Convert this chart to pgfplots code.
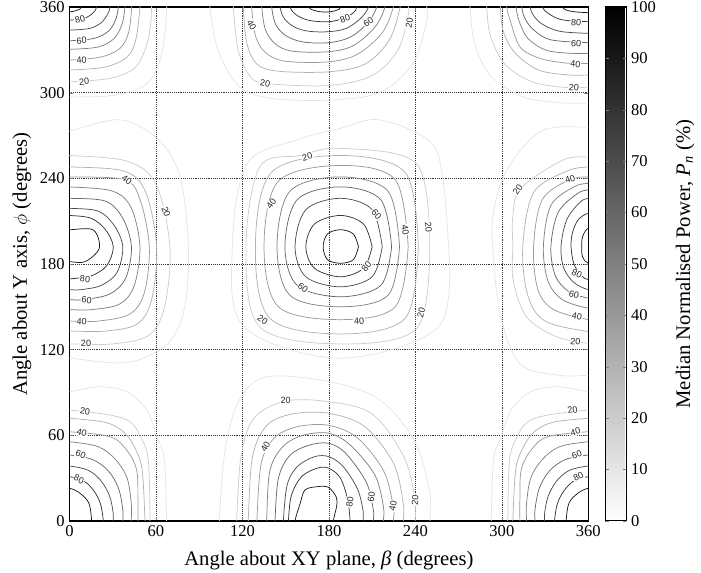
\documentclass[border=0pt]{standalone}
\usepackage{fontspec}
\setmainfont{Liberation Serif}
\newfontfamily\labfont{Liberation Sans}
\usepackage{pgfplots}
\pgfplotsset{compat=1.18}

\pgfplotsset{
  /pgf/number format/assume math mode=true,
  cl/.style={smooth, tension=0.55, line width=0.55pt, forget plot, mark=none},
  l1/.style={cl, draw=black!10}, l2/.style={cl, draw=black!20},
  l3/.style={cl, draw=black!30}, l4/.style={cl, draw=black!40},
  l5/.style={cl, draw=black!50}, l6/.style={cl, draw=black!60},
  l7/.style={cl, draw=black!70}, l8/.style={cl, draw=black!80},
  l9/.style={cl, draw=black!90},
}
\tikzset{lab/.style={font=\labfont\fontsize{6.8}{7}\selectfont, fill=white, inner sep=0.5pt, text=black!85}}

\begin{document}
\begin{tikzpicture}
\begin{axis}[
  width=389.2pt, height=385.5pt, scale only axis,
  xmin=0, xmax=360, ymin=0, ymax=360,
  xtick={0,60,...,360}, ytick={0,60,...,360},
  grid=major, grid style={densely dotted, black!80, line width=0.5pt},
  tick align=inside, major tick length=3pt, tick pos=both,
  axis line style={line width=0.9pt},
  tick label style={font=\fontsize{12.4}{14}\selectfont},
  label style={font=\fontsize{15.5}{18}\selectfont},
  xlabel={Angle about XY plane, \textit{β} (degrees)},
  ylabel={Angle about Y axis, $\phi$ (degrees)},
  xlabel style={at={(axis description cs:0.5,-0.076)}, anchor=center},
  ylabel style={at={(axis description cs:-0.0915,0.5)}, anchor=center},
  colormap={bw}{gray(0cm)=(1); gray(1cm)=(0)},
  point meta min=0, point meta max=100,
  colorbar,
  colorbar style={
    at={(parent axis.north east)}, anchor=north west, xshift=4.2pt,
    width=15.75pt,
    ytick={0,10,...,100}, tick align=inside, major tick length=2.5pt,
    ytick pos=both, yticklabel pos=right,
    axis line style={line width=0.8pt},
    yticklabel style={font=\fontsize{12.4}{14}\selectfont},
    ylabel={Median Normalised Power, \textit{P}\textsubscript{\textit{n}} (\%)},
    ylabel style={font=\fontsize{15.5}{18}\selectfont, at={(axis description cs:3.8,0.5)}, anchor=center},
  },
]
% ---------- central peak
\addplot[l1] coordinates {(263,192) (259,240) (250,266) (215,281) (188,275) (158,267) (123,250) (113,192) (121,136) (188,114) (256,136) (263,192)};
\addplot[l2] coordinates {(250,192) (241,250) (188,261) (160,256) (132,248) (122.5,192) (132,136) (188,124) (241,135) (250,192)};
\addplot[l3] coordinates {(242,192) (233,244) (188,256) (140,244) (129,192) (139,142) (188,131) (233,142) (242,192)};
\addplot[l4] coordinates {(235,192) (226,239) (188,249) (145,238) (135,192) (145,150) (188,141) (226,150) (235,192)};
\addplot[l5] coordinates {(229,192) (221,231) (188,241) (153,231) (144,192) (153,158) (188,150) (221,158) (229,192)};
\addplot[l6] coordinates {(223.5,192) (216,225) (188,234) (158,225) (149.5,192) (158,165) (188,157) (216,165) (223.5,192)};
\addplot[l7] coordinates {(217,192) (210,218) (188,226) (164,218) (156.5,192) (164,171) (188,164) (210,171) (217,192)};
\addplot[l8] coordinates {(210,192) (204,208) (188,214) (170,208) (164,192) (170,177) (188,171) (204,177) (210,192)};
\addplot[l9] coordinates {(200.5,192) (197,201) (188,204) (179,201) (176,192) (179,183) (188,180.5) (197,183) (200.5,192)};
% ---------- left middle peak
\addplot[l1] coordinates {(-10,272) (0,273) (35,281) (62,267) (77,240) (82.5,192) (80,150) (68,124) (40,111) (0,114) (-10,114)};
\addplot[l2] coordinates {(-10,256) (0,256) (40,252) (60,236) (69.7,192) (66,150) (55,130) (30,124) (0,124) (-10,124)};
\addplot[l3] coordinates {(-10,248) (0,248) (38,245) (53,230) (60.5,192) (57,155) (47,138) (25,133) (0,133) (-10,133)};
\addplot[l4] coordinates {(-10,241) (0,241) (38,239) (49,225) (55.4,192) (52,160) (42,145) (20,140) (0,140) (-10,140)};
\addplot[l5] coordinates {(-10,234) (0,234) (30,231) (43,219) (48.9,192) (45,165) (35,152) (15,148) (0,148) (-10,148)};
\addplot[l6] coordinates {(-10,226) (0,226) (25,224) (37,212) (43,192) (39,170) (28,159) (10,155) (0,155) (-10,155)};
\addplot[l7] coordinates {(-10,219) (0,219) (20,217) (31,207) (37,192) (33,174) (22,165) (8,162) (0,162) (-10,162)};
\addplot[l8] coordinates {(-10,214) (0,214) (15,212) (25,204) (30.4,192) (26,179) (16,172) (5,170) (0,169.5) (-10,169.5)};
\addplot[l9] coordinates {(-10,204) (0,204) (16.5,203.8) (20.7,191) (10.8,181.6) (0,181.6) (-10,181.6)};
% ---------- right middle peak
\addplot[l1] coordinates {(370,276) (360,276) (327,273) (303,245) (294,215) (293.7,192) (298.7,145) (312.6,110) (340,102) (360,102) (370,102)};
\addplot[l2] coordinates {(370,255) (360,255) (342.5,252.8) (313,233) (307.6,213) (307.6,192) (307.8,169) (317,143) (338,129) (360,124.4) (370,124.4)};
\addplot[l3] coordinates {(370,248) (360,248) (345,245) (322,230) (314.5,192) (318,158) (330,140) (360,132.6) (370,132.6)};
\addplot[l4] coordinates {(370,241) (360,241) (347,239) (328,225) (322,192) (325,162) (336,148) (360,141) (370,141)};
\addplot[l5] coordinates {(370,236.5) (360,236.5) (350,234) (334,221) (328.8,192) (332,168) (342,155) (360,149) (370,149)};
\addplot[l6] coordinates {(370,232) (360,232) (352,229) (339,216) (334,192) (337,172) (346,161) (360,156) (370,156)};
\addplot[l7] coordinates {(370,226) (360,226) (354,223) (345,211) (341,192) (343,177) (350,167) (360,162) (370,162)};
\addplot[l8] coordinates {(370,215.5) (360,215.5) (353,211) (349,202) (348,192) (350,180) (355,172) (360,169) (370,169)};
\addplot[l9] coordinates {(370,205) (360,205) (356,199) (355.4,192) (356,185) (360,180.4) (370,180.4)};
% ---------- bottom centre peak
\addplot[l1] coordinates {(104,-10) (104,0) (108,50) (118,85) (137,101) (180,97.6) (215,85) (240,55) (250,20) (250.2,0) (250.2,-10)};
\addplot[l2] coordinates {(116,-10) (116,0) (119,45) (128,72) (150,84) (180,83.5) (210,75) (232,45) (239.8,15) (239.8,0) (239.8,-10)};
\addplot[l3] coordinates {(124,-10) (124,0) (127,45) (137,67) (155,75) (180,75.4) (205,66) (225,40) (231.6,12) (231.6,0) (231.6,-10)};
\addplot[l4] coordinates {(130,-10) (130,0) (133,40) (142,58) (158,66) (180,67) (200,58) (218,35) (224.7,10) (224.7,0) (224.7,-10)};
\addplot[l5] coordinates {(136.8,-10) (136.8,0) (139,35) (148,52) (162,60) (180,61.4) (195,53) (212,32) (217.8,10) (217.8,0) (217.8,-10)};
\addplot[l6] coordinates {(142.6,-10) (142.6,0) (145,30) (153,46) (166,53) (180,54.4) (192,47) (206,27) (210.8,8) (210.8,0) (210.8,-10)};
\addplot[l7] coordinates {(148.4,-10) (148.4,0) (151,25) (158,38) (170,45) (180,45) (190,38) (200,22) (203.9,6) (203.9,0) (203.9,-10)};
\addplot[l8] coordinates {(151.9,-10) (151.9,0) (154,18) (161,31) (172,37) (180,36.9) (188,30) (193,15) (194.7,0) (194.7,-10)};
\addplot[l9] coordinates {(156.5,-10) (156.5,0) (160,12) (163.4,21.7) (172,24) (179.6,23.6) (185,17) (185.4,10.5) (183.1,0) (183.1,-10)};
% ---------- top centre peak
\addplot[l1] coordinates {(97.5,370) (97.5,360) (103,330) (118,304) (140,296) (180,294.8) (215,300) (238,320) (247.9,350) (247.9,360) (247.9,370)};
\addplot[l2] coordinates {(113.7,370) (113.7,360) (117,330) (125,312) (136,306.5) (180,305) (210,312) (228,330) (235.1,355) (235.1,360) (235.1,370)};
\addplot[l3] coordinates {(120.6,370) (120.6,360) (123,335) (130,320) (145,315) (180,314.6) (205,320) (222,337) (229.4,360) (229.4,370)};
\addplot[l4] coordinates {(126.4,370) (126.4,360) (129,340) (136,328) (150,322) (180,321.6) (200,327) (217,342) (224.7,360) (224.7,370)};
\addplot[l5] coordinates {(133.4,370) (133.4,360) (136,344) (143,334) (155,329) (180,328.7) (197,333) (212,346) (218.9,360) (218.9,370)};
\addplot[l6] coordinates {(140.3,370) (140.3,360) (143,348) (150,340) (162,335.5) (180,335) (195,339) (207,349) (213.2,360) (213.2,370)};
\addplot[l7] coordinates {(146.1,370) (146.1,360) (149,352) (156,346) (166,343) (180,342.7) (192,345) (202,352) (207.4,360) (207.4,370)};
\addplot[l8] coordinates {(153,370) (153,360) (158,354) (167,350.5) (180,349.7) (190,352) (197,356) (199.3,360) (199.3,370)};
\addplot[l9] coordinates {(166,370) (166,360) (172,357) (180,356.5) (186,358) (188,360) (188,370)};
% ---------- top left corner
\addplot[l1] coordinates {(-10,297) (0,297) (30,298) (52,305) (62,320) (66,340) (67.5,360) (67.5,370)};
\addplot[l2] coordinates {(-10,307.6) (0,307.6) (28,310) (45,317) (52.4,330) (56,345) (57,360) (57,370)};
\addplot[l3] coordinates {(-10,315.8) (0,315.8) (25,318) (40,325) (46,337) (48.9,360) (48.9,370)};
\addplot[l4] coordinates {(-10,322.8) (0,322.8) (22,325) (35,331) (41,342) (43.2,360) (43.2,370)};
\addplot[l5] coordinates {(-10,330.3) (0,330.3) (20,332) (31,338) (36.5,348) (38.5,360) (38.5,370)};
\addplot[l6] coordinates {(-10,336.3) (0,336.3) (17,338) (27,343) (32,351) (33.9,360) (33.9,370)};
\addplot[l7] coordinates {(-10,343.8) (0,343.8) (14,345) (22,349) (26.5,355) (28.1,360) (28.1,370)};
\addplot[l8] coordinates {(-10,350.8) (0,350.8) (10,352) (16,355.5) (18.9,360) (18.9,370)};
\addplot[l9] coordinates {(-10,356.5) (0,356.5) (6,358) (8,360) (8,370)};
% ---------- top right corner
\addplot[l1] coordinates {(277.9,370) (277.9,360) (281,335) (292,312) (315,297) (340,293) (360,292.5) (370,292.5)};
\addplot[l2] coordinates {(289.5,370) (289.5,360) (292,340) (302,320) (320,308) (340,304) (360,303.7) (370,303.7)};
\addplot[l3] coordinates {(299,370) (299,360) (301,343) (309,328) (325,316) (345,312.5) (360,312.3) (370,312.3)};
\addplot[l4] coordinates {(303.4,370) (303.4,360) (305.7,351) (312.6,332) (326.5,324) (345,320.7) (360,320.5) (370,320.5)};
\addplot[l5] coordinates {(309.9,370) (309.9,360) (312,350) (318,338) (330,330) (345,327.7) (360,327.5) (370,327.5)};
\addplot[l6] coordinates {(313.8,370) (313.8,360) (316,352) (322,344) (334,337) (360,335) (370,335)};
\addplot[l7] coordinates {(319.6,370) (319.6,360) (322,354) (328,348) (340,343) (360,341.5) (370,341.5)};
\addplot[l8] coordinates {(328,370) (328,360) (333,355) (342,351) (360,349.7) (370,349.7)};
\addplot[l9] coordinates {(342,370) (342,360) (348,357) (360,356) (370,356)};
% ---------- bottom left corner
\addplot[l1] coordinates {(-10,90.5) (0,90.5) (21,94) (40,90.5) (53.6,77.7) (60.5,59) (65.8,42.7) (67.4,0) (67.4,-10)};
\addplot[l2] coordinates {(-10,77.7) (0,77.7) (28,74.2) (42,69.5) (49.4,59) (54.7,42.7) (55.9,0) (55.9,-10)};
\addplot[l3] coordinates {(-10,71.9) (0,71.9) (25,69) (38,62) (46,50) (50.5,35) (52.4,0) (52.4,-10)};
\addplot[l4] coordinates {(-10,62.5) (0,62.5) (28.1,59) (39.7,49.7) (46.6,35.7) (47.5,15) (47.5,0) (47.5,-10)};
\addplot[l5] coordinates {(-10,55.5) (0,55.5) (20,52) (32,43) (40,30) (42.9,12) (42.9,0) (42.9,-10)};
\addplot[l6] coordinates {(-10,46.2) (0,46.2) (16,43) (27,35) (34,23) (37,8) (37,0) (37,-10)};
\addplot[l7] coordinates {(-10,38.5) (0,38.5) (13,35.5) (22,28) (28,17) (30.4,5) (30.4,0) (30.4,-10)};
\addplot[l8] coordinates {(-10,31) (0,31) (10,28) (17,21) (21.5,12) (23.5,0) (23.5,-10)};
\addplot[l9] coordinates {(-10,22.9) (0,22.9) (7.3,19.4) (13.5,12.4) (15.4,0) (15.4,-10)};
% ---------- bottom right corner
\addplot[l1] coordinates {(370,90.5) (360,90.5) (339,94) (320,90.5) (306.4,77.7) (299.5,59) (294.2,42.7) (292.6,0) (292.6,-10)};
\addplot[l2] coordinates {(370,77.7) (360,77.7) (332,74.2) (318,69.5) (310.6,59) (305.3,42.7) (304.1,0) (304.1,-10)};
\addplot[l3] coordinates {(370,71.9) (360,71.9) (335,69) (322,62) (314,50) (309.5,35) (307.6,0) (307.6,-10)};
\addplot[l4] coordinates {(370,62.5) (360,62.5) (331.9,59) (320.3,49.7) (313.4,35.7) (312.5,15) (312.5,0) (312.5,-10)};
\addplot[l5] coordinates {(370,55.5) (360,55.5) (340,52) (328,43) (320,30) (317.1,12) (317.1,0) (317.1,-10)};
\addplot[l6] coordinates {(370,46.2) (360,46.2) (344,43) (333,35) (326,23) (323,8) (323,0) (323,-10)};
\addplot[l7] coordinates {(370,38.5) (360,38.5) (347,35.5) (338,28) (332,17) (329.6,5) (329.6,0) (329.6,-10)};
\addplot[l8] coordinates {(370,31) (360,31) (350,28) (343,21) (338.5,12) (336.5,0) (336.5,-10)};
\addplot[l9] coordinates {(370,22.9) (360,22.9) (352.7,19.4) (346.5,12.4) (344.6,0) (344.6,-10)};
% ---------- contour labels
\node[lab, rotate=15] at (axis cs:165,255) {20};
\node[lab, rotate=55] at (axis cs:140,222) {40};
\node[lab, rotate=-50] at (axis cs:213,215) {60};
\node[lab, rotate=-80] at (axis cs:233,204) {40};
\node[lab, rotate=-85] at (axis cs:249,206) {20};
\node[lab, rotate=50] at (axis cs:206,178) {80};
\node[lab, rotate=-35] at (axis cs:162,163) {60};
\node[lab, rotate=5] at (axis cs:201,140) {40};
\node[lab, rotate=-35] at (axis cs:134,141) {20};
\node[lab, rotate=75] at (axis cs:244,146) {20};
\node[lab, rotate=-5] at (axis cs:10.8,169.5) {80};
\node[lab, rotate=-5] at (axis cs:11.9,154.8) {60};
\node[lab, rotate=-5] at (axis cs:8.5,139.6) {40};
\node[lab] at (axis cs:11.5,124.4) {20};
\node[lab, rotate=-35] at (axis cs:39.7,238.8) {40};
\node[lab, rotate=-70] at (axis cs:67,216.6) {20};
\node[lab, rotate=20] at (axis cs:347.3,239.3) {40};
\node[lab, rotate=55] at (axis cs:311,232) {20};
\node[lab, rotate=-25] at (axis cs:352,173) {80};
\node[lab, rotate=-15] at (axis cs:350,158.3) {60};
\node[lab, rotate=-10] at (axis cs:352,143.1) {40};
\node[lab, rotate=-5] at (axis cs:351,125.6) {20};
\node[lab] at (axis cs:150,84.2) {20};
\node[lab, rotate=60] at (axis cs:136,52) {40};
\node[lab, rotate=80] at (axis cs:194.5,13.5) {80};
\node[lab, rotate=80] at (axis cs:209.5,17) {60};
\node[lab, rotate=80] at (axis cs:224.5,10.5) {40};
\node[lab, rotate=85] at (axis cs:239.8,14.7) {20};
\node[lab, rotate=-60] at (axis cs:126.4,347.3) {40};
\node[lab, rotate=-10] at (axis cs:135.7,306.5) {20};
\node[lab, rotate=20] at (axis cs:191.2,352) {80};
\node[lab, rotate=35] at (axis cs:207.4,349.6) {60};
\node[lab, rotate=80] at (axis cs:235.8,348.5) {20};
\node[lab, rotate=15] at (axis cs:7.3,351.3) {80};
\node[lab, rotate=5] at (axis cs:8.5,336.3) {60};
\node[lab, rotate=5] at (axis cs:8.5,322.8) {40};
\node[lab, rotate=5] at (axis cs:10.1,307.6) {20};
\node[lab, rotate=-10] at (axis cs:10.8,76.5) {20};
\node[lab, rotate=-15] at (axis cs:8.5,61.8) {40};
\node[lab, rotate=-20] at (axis cs:7.8,46.7) {60};
\node[lab, rotate=-25] at (axis cs:6.6,29.2) {80};
\node[lab, rotate=-5] at (axis cs:351.5,348.9) {80};
\node[lab, rotate=-5] at (axis cs:351.5,334.5) {60};
\node[lab, rotate=-5] at (axis cs:351,320) {40};
\node[lab, rotate=-5] at (axis cs:350,303.7) {20};
\node[lab, rotate=10] at (axis cs:349,77.7) {20};
\node[lab, rotate=15] at (axis cs:351,62.5) {40};
\node[lab, rotate=20] at (axis cs:352,46.2) {60};
\node[lab, rotate=25] at (axis cs:353,31) {80};
\coordinate (sw) at (rel axis cs:0,0);
\coordinate (ne) at (rel axis cs:1,1);
\end{axis}
\pgfresetboundingbox
\path[use as bounding box] ([xshift=-52.1pt,yshift=-39pt]sw) rectangle ([xshift=84.5pt,yshift=5.25pt]ne);
\end{tikzpicture}
\end{document}
